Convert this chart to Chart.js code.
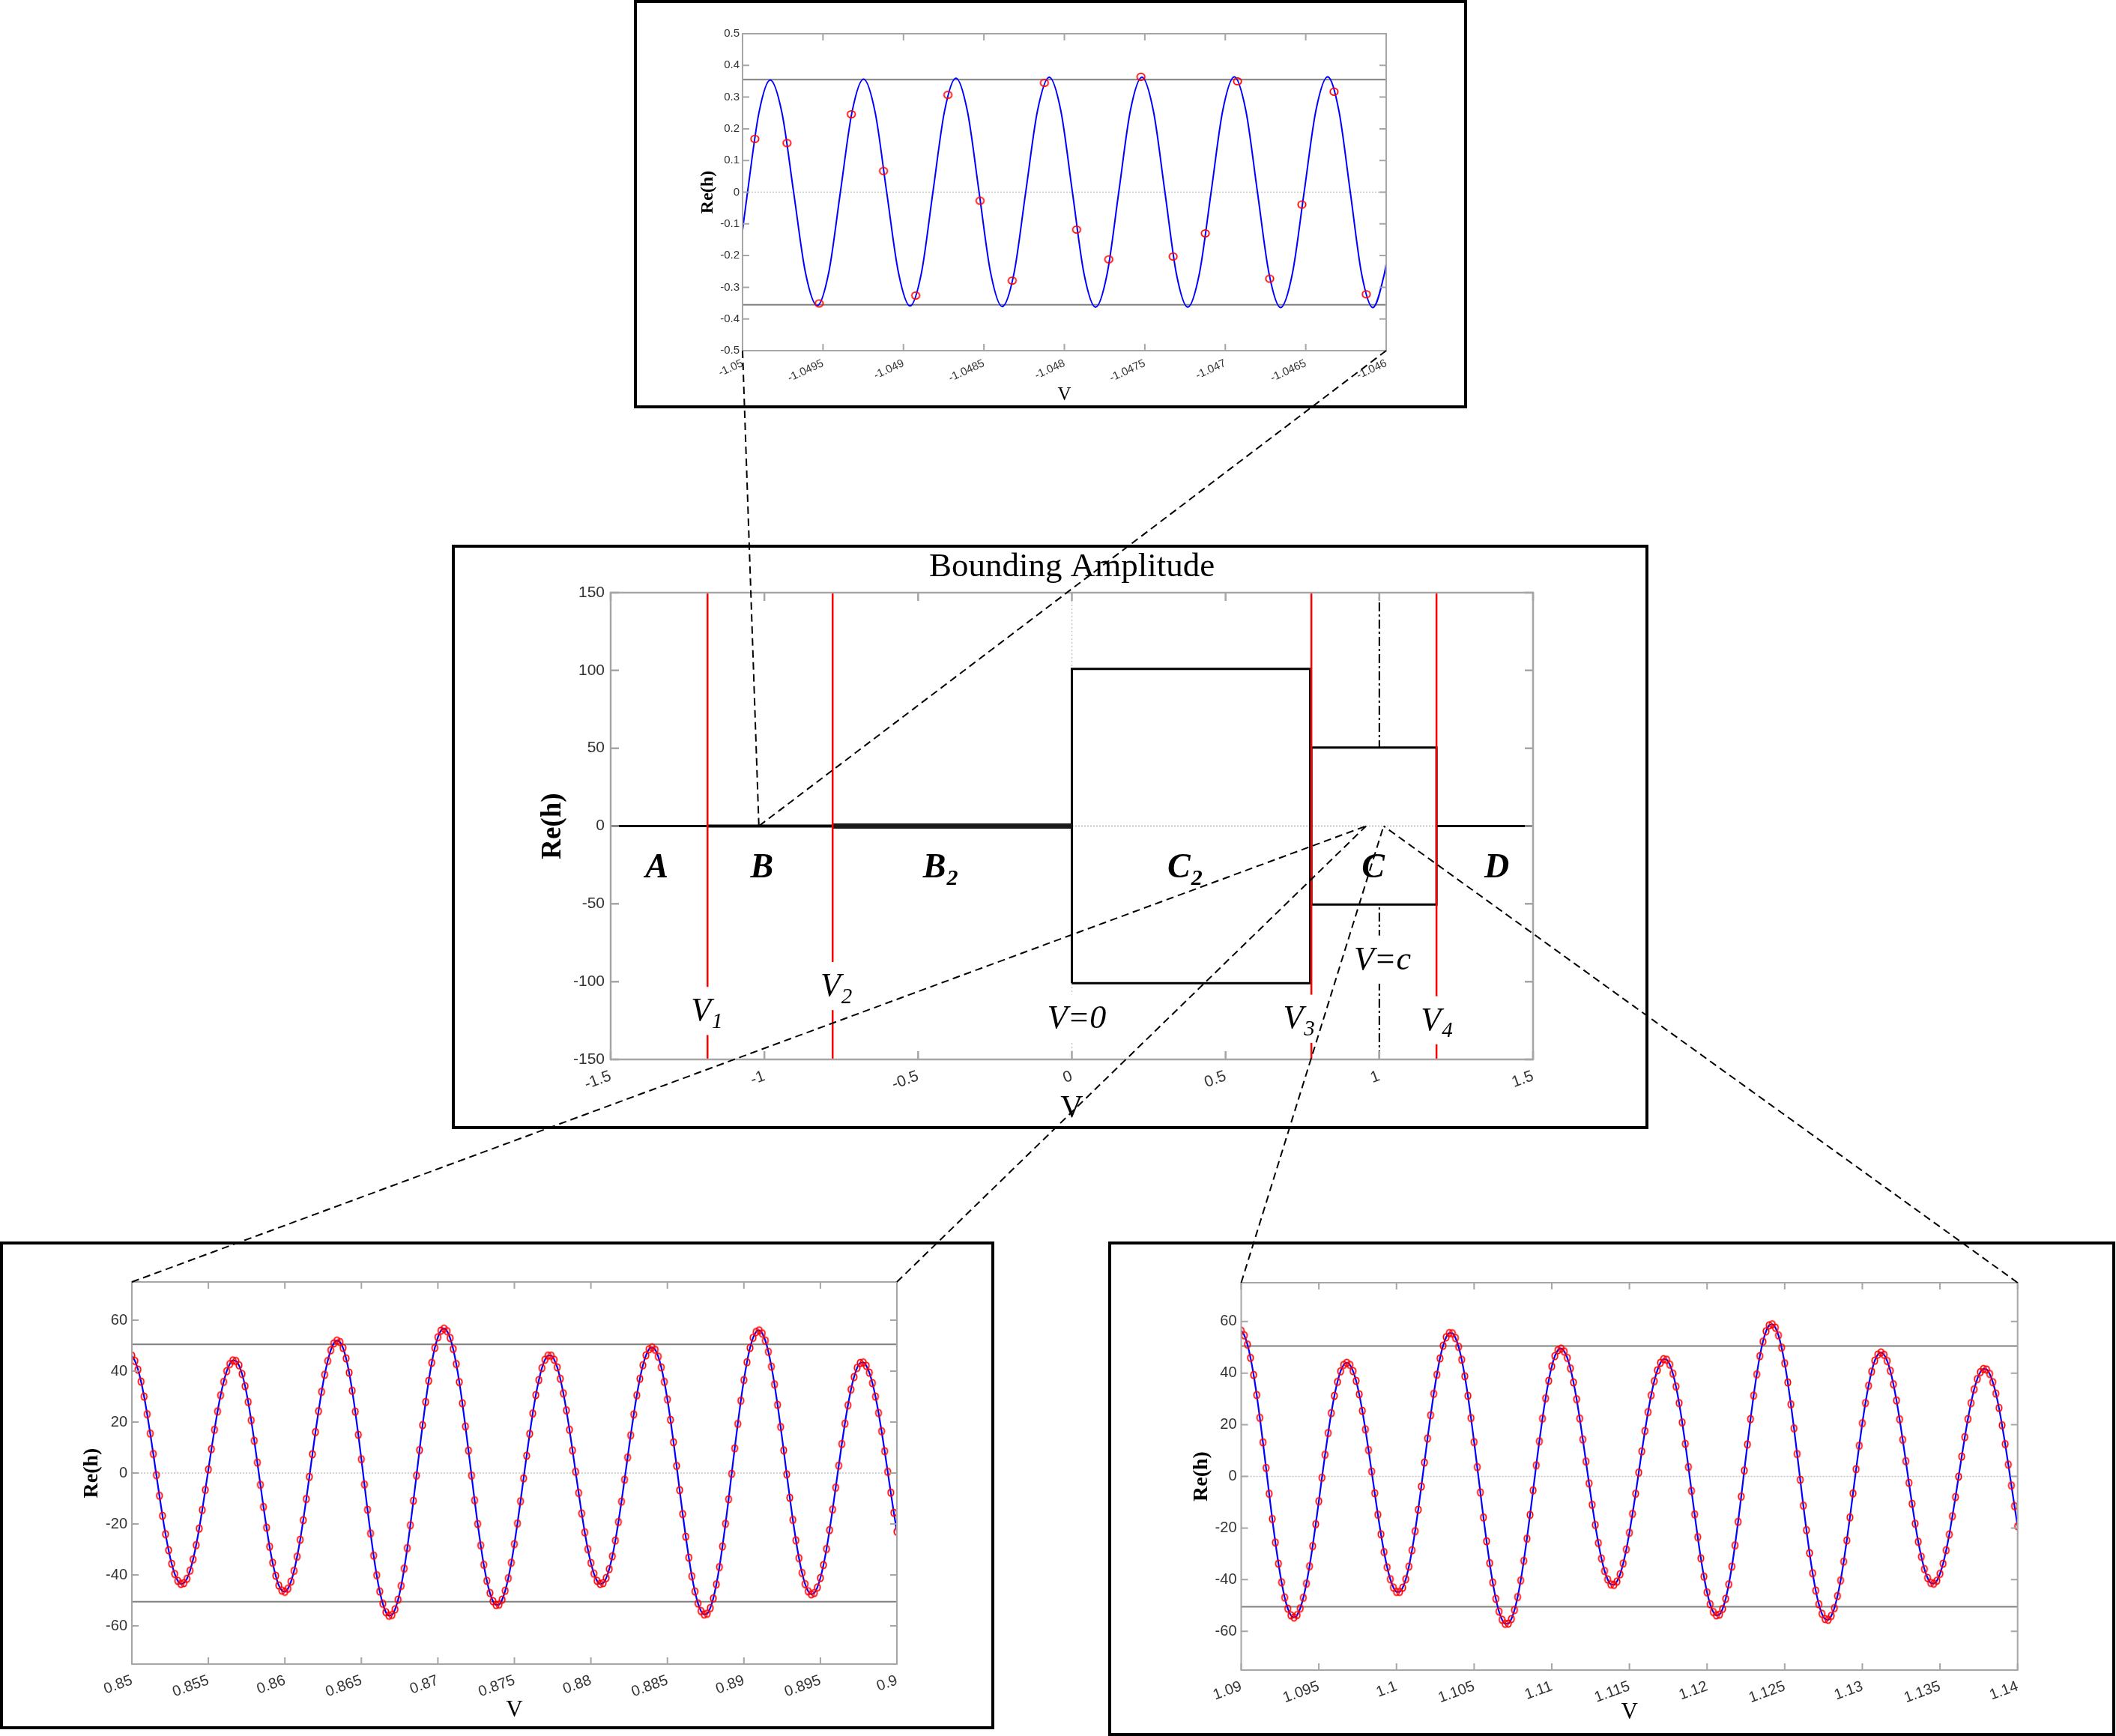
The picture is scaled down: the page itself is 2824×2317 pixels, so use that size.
<!DOCTYPE html>
<html>
<head>
<meta charset="utf-8">
<title>Bounding Amplitude</title>
<script src="https://cdn.jsdelivr.net/npm/chart.js@4.4.1/dist/chart.umd.min.js"></script>
<style>
  html, body { margin: 0; padding: 0; background: #fff; }
  body { position: relative; width: 2824px; height: 2317px; overflow: hidden; }
  .box { position: absolute; box-sizing: border-box; border: 4px solid #000; background: #fff; }
  .box canvas { position: absolute; left: 0; top: 0; }
  #links { position: absolute; left: 0; top: 0; pointer-events: none; }
</style>
</head>
<body>
<div class="box" style="left:846px;top:0px;width:1112px;height:545px"><canvas id="topPlot" width="1104" height="537"></canvas></div>
<div class="box" style="left:603px;top:727px;width:1597px;height:780px"><canvas id="mainPlot" width="1589" height="772"></canvas></div>
<div class="box" style="left:0px;top:1657px;width:1327px;height:651px"><canvas id="leftPlot" width="1319" height="643"></canvas></div>
<div class="box" style="left:1479px;top:1657px;width:1344px;height:660px"><canvas id="rightPlot" width="1336" height="652"></canvas></div>
<canvas id="links" width="2824" height="2317"></canvas>
<script>
// ---------------- main panel ----------------
var mainTitle = 'Bounding Amplitude';
var xTitle = 'V';
var yTitle = 'Re(h)';
var mainXTicks = [-1.5, -1, -0.5, 0, 0.5, 1, 1.5];
var mainXLabels = ['-1.5', '-1', '-0.5', '0', '0.5', '1', '1.5'];
var mainYTicks = [-150, -100, -50, 0, 50, 100, 150];
var mainYLabels = ['-150', '-100', '-50', '0', '50', '100', '150'];
var vLineX = [-1.185, -0.778, 0.779, 1.186];   // V1, V2, V3, V4
var vCenter = 1.0;                             // V = c
var c2Box = [0, 0.775, 101];                   // from, to, bounding amplitude
var cBox = [0.779, 1.186, 50.5];
var regionText = ['A', 'B', 'B', 'C', 'C', 'D'];
var regionSub = ['', '', '2', '2', '', ''];
var regionX = [-1.35, -1.008, -0.426, 0.369, 0.98, 1.382];
var regionY = -33;
var vLabText = ['V', 'V', 'V=0', 'V', 'V', 'V=c'];
var vLabSub = ['1', '2', '', '3', '4', ''];
var vLabX = [-1.186, -0.765, 0.016, 0.74, 1.188, 1.01];
var vLabY = [-125, -109, -130, -130, -131, -92];
var zoomAt = [-1.018, 0.957, 1.014];           // where the zoom lines meet Re(h)=0

// ---------------- top inset (region B) ----------------
var topXTicks = [-1.05, -1.0495, -1.049, -1.0485, -1.048, -1.0475, -1.047, -1.0465, -1.046];
var topXLabels = ['-1.05', '-1.0495', '-1.049', '-1.0485', '-1.048', '-1.0475', '-1.047', '-1.0465', '-1.046'];
var topYTicks = [-0.5, -0.4, -0.3, -0.2, -0.1, 0, 0.1, 0.2, 0.3, 0.4, 0.5];
var topYLabels = ['-0.5', '-0.4', '-0.3', '-0.2', '-0.1', '0', '0.1', '0.2', '0.3', '0.4', '0.5'];
var topBound = 0.355;
var topCurveV = [-1.05, -1.049969, -1.049898, -1.049828, -1.049755, -1.049682, -1.049609, -1.049536,
  -1.049464, -1.049392, -1.04932, -1.049248, -1.049176, -1.049104, -1.049031, -1.048959,
  -1.048888, -1.048817, -1.048745, -1.048674, -1.048602, -1.04853, -1.048458, -1.048386,
  -1.048313, -1.04824, -1.048167, -1.048094, -1.048022, -1.04795, -1.047878, -1.047806,
  -1.047734, -1.047662, -1.04759, -1.047518, -1.047447, -1.047375, -1.047304, -1.047233,
  -1.047161, -1.047088, -1.047016, -1.046944, -1.046872, -1.0468, -1.046728, -1.046656,
  -1.046583, -1.04651, -1.046437, -1.046364, -1.046294, -1.046223, -1.046153, -1.046083,
  -1.046011, -1.046];
var topCurveH = [-0.12, 0, 0.251, 0.354, 0.25, -0.002, -0.254, -0.358,
  -0.253, 0, 0.252, 0.357, 0.252, -0.001, -0.254, -0.359,
  -0.254, 0, 0.255, 0.36, 0.254, 0, -0.255, -0.361,
  -0.256, 0.001, 0.257, 0.363, 0.257, 0, -0.257, -0.363,
  -0.257, 0, 0.257, 0.363, 0.257, 0, -0.257, -0.363,
  -0.257, 0, 0.257, 0.364, 0.257, 0, -0.257, -0.364,
  -0.257, 0, 0.257, 0.364, 0.257, 0, -0.257, -0.364,
  -0.257, -0.226];
var topDotV = [-1.049924, -1.049724, -1.049524, -1.049324, -1.049124, -1.048924, -1.048724,
  -1.048524, -1.048324, -1.048124, -1.047924, -1.047724, -1.047524, -1.047324, -1.047124,
  -1.046924, -1.046724, -1.046524, -1.046324, -1.046124];
var topDotH = [0.168, 0.155, -0.351, 0.246, 0.067, -0.326, 0.307, -0.027, -0.279, 0.345,
  -0.118, -0.212, 0.364, -0.203, -0.13, 0.35, -0.273, -0.039, 0.317, -0.322];

// ---------------- bottom insets (region C) ----------------
var lowYTicks = [-60, -40, -20, 0, 20, 40, 60];
var lowYLabels = ['-60', '-40', '-20', '0', '20', '40', '60'];
var lowBound = 50.5;
var sampleStep = 0.0002;
var leftStart = 0.85;
var leftXTicks = [0.85, 0.855, 0.86, 0.865, 0.87, 0.875, 0.88, 0.885, 0.89, 0.895, 0.9];
var leftXLabels = ['0.85', '0.855', '0.86', '0.865', '0.87', '0.875', '0.88', '0.885', '0.89', '0.895', '0.9'];
var leftH = [
  46.1, 44.0, 40.6, 35.9, 30.0, 23.1, 15.5, 7.5, -0.8, -8.9, -16.8, -24.0, -30.3, -35.6, -39.6, -42.3, -43.5,
  -43.2, -41.5, -38.3, -33.9, -28.3, -21.8, -14.5, -6.6, 1.4, 9.4, 17.0, 24.2, 30.5, 35.8, 40.0, 42.8, 44.2,
  44.0, 42.3, 38.9, 34.1, 27.9, 20.7, 12.7, 4.1, -4.6, -13.3, -21.4, -28.9, -35.2, -40.3, -44.1, -46.1,
  -46.6, -45.4, -42.6, -38.4, -32.8, -26.2, -18.5, -10.2, -1.5, 7.4, 16.1, 24.3, 31.9, 38.6, 44.0, 48.2, 50.9, 52.0,
  51.4, 49.1, 45.0, 39.4, 32.3, 24.1, 15.0, 5.4, -4.5, -14.4, -23.7, -32.4, -40.1, -46.5, -51.3, -54.6, -56.0,
  -55.7, -53.5, -49.7, -44.3, -37.5, -29.5, -20.5, -10.9, -1.0, 9.0, 18.8, 27.9, 36.2, 43.3, 49.1, 53.3, 55.9,
  56.7, 55.7, 53.0, 48.7, 42.8, 35.7, 27.4, 18.3, 8.8, -1.0, -10.7, -20.0, -28.4, -36.0, -42.3, -47.1, -50.3, -51.8,
  -51.6, -49.7, -46.2, -41.3, -35.2, -27.9, -19.8, -11.1, -2.1, 6.8, 15.4, 23.4, 30.6, 36.5, 41.2, 44.5, 46.1,
  46.1, 44.5, 41.5, 37.0, 31.3, 24.6, 17.0, 8.9, 0.5, -7.8, -15.9, -23.3, -29.9, -35.3, -39.5, -42.3, -43.5,
  -43.2, -41.2, -37.7, -32.7, -26.5, -19.2, -11.2, -2.6, 6.1, 14.8, 23.0, 30.5, 37.0, 42.3, 46.2, 48.6,
  49.3, 48.4, 45.7, 41.5, 35.8, 28.9, 20.9, 12.1, 2.8, -6.7, -16.1, -25.0, -33.2, -40.5, -46.5, -51.2, -54.2, -55.5,
  -55.2, -53.0, -49.2, -43.7, -36.9, -28.8, -19.9, -10.3, -0.3, 9.7, 19.3, 28.4, 36.5, 43.5, 49.1, 53.1, 55.4,
  56.0, 54.8, 52.0, 47.6, 41.8, 34.8, 26.8, 18.1, 8.9, -0.5, -9.7, -18.4, -26.4, -33.4, -39.2, -43.6, -46.4, -47.6,
  -47.1, -44.9, -41.2, -36.1, -29.8, -22.4, -14.3, -5.7, 2.9, 11.4, 19.4, 26.6, 32.8, 37.7, 41.3, 43.2,
  43.4, 42.1, 39.4, 35.3, 30.0, 23.6, 16.4, 8.6, 0.5, -7.7, -15.6, -23.0];
var rightStart = 1.09;
var rightXTicks = [1.09, 1.095, 1.1, 1.105, 1.11, 1.115, 1.12, 1.125, 1.13, 1.135, 1.14];
var rightXLabels = ['1.09', '1.095', '1.1', '1.105', '1.11', '1.115', '1.12', '1.125', '1.13', '1.135', '1.14'];
var rightH = [
  56.4, 54.6, 51.1, 45.9, 39.3, 31.5, 22.7, 13.2, 3.3, -6.7, -16.5, -25.6, -33.8, -41.0, -46.9, -51.2, -53.8,
  -54.6, -53.7, -51.1, -47.0, -41.5, -34.8, -27.0, -18.5, -9.6, -0.5, 8.4, 16.8, 24.5, 31.2, 36.6, 40.7, 43.2,
  44.0, 43.2, 40.8, 37.0, 31.8, 25.4, 18.2, 10.2, 1.9, -6.5, -14.8, -22.4, -29.3, -35.2, -39.8, -43.0, -44.7,
  -44.7, -43.1, -39.8, -34.9, -28.6, -21.2, -12.9, -3.9, 5.4, 14.7, 23.7, 32.0, 39.4, 45.7, 50.6, 53.9, 55.5,
  55.4, 53.6, 50.2, 45.2, 38.8, 31.2, 22.6, 13.3, 3.6, -6.2, -15.9, -25.1, -33.6, -41.1, -47.4, -52.3, -55.5, -57.1,
  -57.0, -55.2, -51.7, -46.7, -40.3, -32.7, -24.1, -14.9, -5.4, 4.3, 13.6, 22.4, 30.2, 37.0, 42.6, 46.6, 48.9,
  49.5, 48.4, 45.9, 41.8, 36.4, 29.9, 22.4, 14.3, 5.8, -2.7, -11.0, -18.8, -25.8, -31.8, -36.6, -39.9, -41.8,
  -42.0, -40.7, -37.9, -33.7, -28.3, -21.8, -14.5, -6.7, 1.5, 9.7, 17.6, 24.9, 31.4, 36.9, 41.1, 44.0, 45.4,
  45.2, 43.3, 39.8, 34.8, 28.4, 20.9, 12.6, 3.6, -5.6, -14.7, -23.5, -31.7, -38.8, -44.9, -49.5, -52.5, -53.8,
  -53.5, -51.3, -47.4, -41.8, -34.9, -26.7, -17.6, -7.8, 2.3, 12.4, 22.2, 31.3, 39.5, 46.6, 52.2, 56.2, 58.5,
  58.9, 57.6, 54.6, 49.9, 43.8, 36.4, 27.9, 18.6, 8.7, -1.3, -11.3, -20.8, -29.7, -37.5, -44.2, -49.5, -53.2, -55.2,
  -55.5, -54.0, -51.0, -46.3, -40.3, -33.0, -24.8, -15.9, -6.6, 2.8, 11.9, 20.6, 28.4, 35.1, 40.6, 44.8, 47.2,
  48.0, 47.1, 44.7, 40.9, 35.7, 29.4, 22.1, 14.2, 5.9, -2.5, -10.6, -18.3, -25.3, -31.1, -35.9, -39.3, -41.2,
  -41.5, -40.4, -37.7, -33.8, -28.6, -22.5, -15.4, -8.0, -0.1, 7.7, 15.2, 22.2, 28.4, 33.7, 37.7, 40.4, 41.6,
  41.4, 39.7, 36.5, 32.1, 26.5, 19.8, 12.5, 4.6, -3.5, -11.5, -19.3];

// ---------------- helpers ----------------
var serif = '"Liberation Serif", "Times New Roman", serif';
var sans = '"Liberation Sans", Arial, sans-serif';

function xy(xs, ys) { return xs.map(function (x, i) { return { x: x, y: ys[i] }; }); }
function sampled(start, step, ys) {
  return ys.map(function (y, i) { return { x: +(start + i * step).toFixed(6), y: y }; });
}
function hline(x0, x1, y) { return [{ x: x0, y: y }, { x: x1, y: y }]; }
function vline(x, y0, y1) { return [{ x: x, y: y0 }, { x: x, y: y1 }]; }
function box(x0, x1, h) {
  return [{ x: x0, y: -h }, { x: x0, y: h }, { x: x1, y: h }, { x: x1, y: -h }, { x: x0, y: -h }];
}
function lineSet(data, color, width, order, extra) {
  var d = { data: data, showLine: true, borderColor: color, borderWidth: width, pointRadius: 0, order: order, fill: false };
  for (var k in (extra || {})) d[k] = extra[k];
  return d;
}
// small red ring used as marker (slightly taller than wide, like the exported figure)
function ringMarker(rx, ry, lw) {
  var cv = document.createElement('canvas');
  cv.width = Math.ceil(2 * rx + lw + 2);
  cv.height = Math.ceil(2 * ry + lw + 2);
  var c = cv.getContext('2d');
  c.strokeStyle = '#ff0000';
  c.lineWidth = lw;
  c.beginPath();
  c.ellipse(cv.width / 2, cv.height / 2, rx, ry, 0, 0, Math.PI * 2);
  c.stroke();
  return cv;
}

// MATLAB style axes box, inward ticks and axis titles
var matFrame = {
  id: 'matFrame',
  afterDatasetsDraw: function (chart, args, o) {
    var a = chart.chartArea, c = chart.ctx, sx = chart.scales.x, sy = chart.scales.y;
    c.save();
    c.strokeStyle = o.color;
    c.lineWidth = o.width;
    c.beginPath();
    sx.ticks.forEach(function (t) {
      var p = sx.getPixelForValue(t.value);
      c.moveTo(p, a.bottom); c.lineTo(p, a.bottom - o.len);
      c.moveTo(p, a.top); c.lineTo(p, a.top + o.len);
    });
    sy.ticks.forEach(function (t) {
      var p = sy.getPixelForValue(t.value);
      c.moveTo(a.left, p); c.lineTo(a.left + o.len, p);
      c.moveTo(a.right, p); c.lineTo(a.right - o.len, p);
    });
    c.stroke();
    c.strokeRect(a.left, a.top, a.right - a.left, a.bottom - a.top);
    c.fillStyle = '#000';
    c.textAlign = 'center';
    c.textBaseline = 'middle';
    var cx = (a.left + a.right) / 2, cy = (a.top + a.bottom) / 2;
    if (o.title) { c.font = o.titleFont; c.fillText(o.title, cx, a.top + o.titleDy); }
    c.font = o.xFont;
    c.fillText(xTitle, cx, a.bottom + o.xDy);
    c.translate(a.left - o.yDx, cy);
    c.rotate(-Math.PI / 2);
    c.font = o.yFont;
    c.fillText(yTitle, 0, 0);
    c.restore();
  }
};

function drawSub(c, x, y, main, sub, style, size, bg) {
  var ss = Math.round(size * 0.66);
  c.font = style + ' ' + size + 'px ' + serif;
  var w1 = c.measureText(main).width;
  c.font = style + ' ' + ss + 'px ' + serif;
  var w2 = sub ? c.measureText(sub).width + 2 : 0;
  var x0 = x - (w1 + w2) / 2;
  if (bg) {
    c.fillStyle = '#fff';
    c.fillRect(x0 - 6, y - size * 1.02, w1 + w2 + 12, size * 1.46);
  }
  c.fillStyle = '#000';
  c.textAlign = 'left';
  c.textBaseline = 'alphabetic';
  c.font = style + ' ' + size + 'px ' + serif;
  c.fillText(main, x0, y);
  if (sub) {
    c.font = style + ' ' + ss + 'px ' + serif;
    c.fillText(sub, x0 + w1 + 1, y + size * 0.22);
  }
}

var mainLabels = {
  id: 'mainLabels',
  afterDatasetsDraw: function (chart) {
    var c = chart.ctx, sx = chart.scales.x, sy = chart.scales.y;
    c.save();
    regionText.forEach(function (t, i) {
      drawSub(c, sx.getPixelForValue(regionX[i]), sy.getPixelForValue(regionY), t, regionSub[i], 'italic bold', 46, false);
    });
    vLabText.forEach(function (t, i) {
      drawSub(c, sx.getPixelForValue(vLabX[i]), sy.getPixelForValue(vLabY[i]), t, vLabSub[i], 'italic', 44, true);
    });
    c.restore();
  }
};

var YW = 70, XH = 62;
function axis(min, max, ticks, labels, size, rot, pad, dir) {
  return {
    type: 'linear', min: min, max: max,
    grid: { display: false, drawTicks: false },
    border: { display: false },
    afterBuildTicks: function (s) { s.ticks = ticks.map(function (v) { return { value: v }; }); },
    afterFit: function (s) { if (dir === 'x') s.height = XH; else s.width = YW; },
    ticks: {
      autoSkip: false, minRotation: rot, maxRotation: rot, padding: pad, color: '#333',
      font: { family: sans, size: size },
      callback: function (v, i) { return labels[i]; }
    }
  };
}

function makeChart(id, area, sc, datasets, frame, extra) {
  var cv = document.getElementById(id);
  return new Chart(cv, {
    type: 'scatter',
    data: { datasets: datasets },
    options: {
      animation: false, responsive: false, devicePixelRatio: 1, events: [],
      layout: { padding: { left: area[0] - YW, top: area[1], right: cv.width - area[2], bottom: cv.height - area[3] - XH } },
      plugins: { legend: { display: false }, tooltip: { enabled: false }, matFrame: frame },
      scales: {
        x: axis(sc.xMin, sc.xMax, sc.xTicks, sc.xLabels, sc.font, sc.rot, sc.xPad, 'x'),
        y: axis(sc.yMin, sc.yMax, sc.yTicks, sc.yLabels, sc.font, 0, sc.yPad, 'y')
      }
    },
    plugins: [matFrame].concat(extra || [])
  });
}

function insetSets(curve, dots, x0, x1, bound, marker, lw) {
  return [
    { data: dots, showLine: false, pointStyle: marker, pointRadius: 5, borderColor: '#ff0000',
      backgroundColor: 'rgba(0,0,0,0)', order: 1 },
    lineSet(curve, '#0000ff', lw, 2, { cubicInterpolationMode: 'monotone' }),
    lineSet(hline(x0, x1, bound), '#808080', 2, 3),
    lineSet(hline(x0, x1, -bound), '#808080', 2, 3),
    lineSet(hline(x0, x1, 0), '#c4c4c4', 1.5, 4, { borderDash: [2, 2] })
  ];
}

// ---------------- main chart ----------------
var mainSets = [
  lineSet(vline(0, -150, 150), '#c8c8c8', 1.5, 20, { borderDash: [2, 3] }),
  lineSet(vline(vCenter, -150, 150), '#000', 2, 19, { borderDash: [12, 4, 3, 4] }),
  lineSet(hline(c2Box[0], c2Box[1], c2Box[2]), 'rgba(0,0,0,0)', 0, 18, { fill: '+1', backgroundColor: '#fff' }),
  lineSet(hline(c2Box[0], c2Box[1], -c2Box[2]), 'rgba(0,0,0,0)', 0, 18),
  lineSet(hline(cBox[0], cBox[1], cBox[2]), 'rgba(0,0,0,0)', 0, 17, { fill: '+1', backgroundColor: '#fff' }),
  lineSet(hline(cBox[0], cBox[1], -cBox[2]), 'rgba(0,0,0,0)', 0, 17),
  lineSet(hline(-1.5, 1.5, 0), '#b4b4b4', 1.5, 16, { borderDash: [2, 2] }),
  lineSet(box(c2Box[0], c2Box[1], c2Box[2]), '#000', 3, 15),
  lineSet(box(cBox[0], cBox[1], cBox[2]), '#000', 3, 15),
  lineSet(hline(-1.5, vLineX[0], 0), '#000', 3, 10),
  lineSet(hline(vLineX[0], vLineX[1], 0), '#000', 4, 10),
  lineSet(hline(vLineX[1], c2Box[0], 0), '#1a1a1a', 7, 10),
  lineSet(hline(vLineX[3], 1.5, 0), '#000', 3, 10)
].concat(vLineX.map(function (x) { return lineSet(vline(x, -150, 150), '#ff0000', 2.5, 5); }));

var mainChart = makeChart('mainPlot', [208, 60, 1439, 683],
  { xMin: -1.5, xMax: 1.5, xTicks: mainXTicks, xLabels: mainXLabels, yMin: -150, yMax: 150,
    yTicks: mainYTicks, yLabels: mainYLabels, font: 21, rot: 20, xPad: 10, yPad: 8 },
  mainSets,
  { color: '#a6a6a6', width: 2.5, len: 11, title: mainTitle, titleFont: '45px ' + serif, titleDy: -34,
    xFont: '42px ' + serif, xDy: 66, yFont: 'bold 37px ' + serif, yDx: 77 },
  [mainLabels]);

// ---------------- insets ----------------
var topChart = makeChart('topPlot', [141, 41, 1000, 464],
  { xMin: -1.05, xMax: -1.046, xTicks: topXTicks, xLabels: topXLabels, yMin: -0.5, yMax: 0.5,
    yTicks: topYTicks, yLabels: topYLabels, font: 15, rot: 25, xPad: 8, yPad: 4 },
  insetSets(xy(topCurveV, topCurveH), xy(topDotV, topDotH), -1.05, -1.046, topBound, ringMarker(5.2, 4.6, 1.8), 2),
  { color: '#a6a6a6', width: 2, len: 9, xFont: '25px ' + serif, xDy: 59, yFont: 'bold 24px ' + serif, yDx: 46 });

var leftPts = sampled(leftStart, sampleStep, leftH);
var leftChart = makeChart('leftPlot', [172, 50, 1193, 560],
  { xMin: 0.85, xMax: 0.9, xTicks: leftXTicks, xLabels: leftXLabels, yMin: -75, yMax: 75,
    yTicks: lowYTicks, yLabels: lowYLabels, font: 20, rot: 20, xPad: 10, yPad: 6 },
  insetSets(leftPts, leftPts, 0.85, 0.9, lowBound, ringMarker(3.7, 4.7, 1.8), 2.2),
  { color: '#a6a6a6', width: 2, len: 9, xFont: '31px ' + serif, xDy: 62, yFont: 'bold 28px ' + serif, yDx: 53 });

var rightPts = sampled(rightStart, sampleStep, rightH);
var rightChart = makeChart('rightPlot', [173.5, 51, 1209.7, 568],
  { xMin: 1.09, xMax: 1.14, xTicks: rightXTicks, xLabels: rightXLabels, yMin: -75, yMax: 75,
    yTicks: lowYTicks, yLabels: lowYLabels, font: 20, rot: 20, xPad: 10, yPad: 6 },
  insetSets(rightPts, rightPts, 1.09, 1.14, lowBound, ringMarker(3.7, 4.7, 1.8), 2.2),
  { color: '#a6a6a6', width: 2, len: 9, xFont: '31px ' + serif, xDy: 57, yFont: 'bold 28px ' + serif, yDx: 53 });

// ---------------- dashed zoom lines ----------------
function pageXY(chart, x, y) {
  var r = chart.canvas.getBoundingClientRect();
  return [r.left + chart.scales.x.getPixelForValue(x), r.top + chart.scales.y.getPixelForValue(y)];
}
function corner(chart, sx, sy) {
  var r = chart.canvas.getBoundingClientRect(), a = chart.chartArea;
  return [r.left + a[sx], r.top + a[sy]];
}
var lc = document.getElementById('links').getContext('2d');
lc.setLineDash([10, 6]);
lc.lineWidth = 2;
lc.strokeStyle = '#000';
[[topChart, 0, 'bottom'], [leftChart, 1, 'top'], [rightChart, 2, 'top']].forEach(function (z) {
  var p = pageXY(mainChart, zoomAt[z[1]], 0);
  ['left', 'right'].forEach(function (side) {
    var q = corner(z[0], side, z[2]);
    lc.beginPath();
    lc.moveTo(q[0], q[1]);
    lc.lineTo(p[0], p[1]);
    lc.stroke();
  });
});
</script>
</body>
</html>
